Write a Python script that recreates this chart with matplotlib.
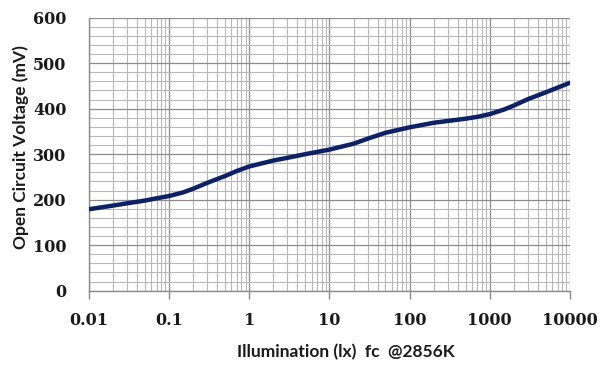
import numpy as np
import matplotlib
matplotlib.use('Agg')
from matplotlib import pyplot as plt
from matplotlib.ticker import LogLocator, FixedLocator, NullFormatter

# 读取自图片的数据点
lux = [0.01, 0.02, 0.03, 0.05, 0.07, 0.1, 0.15, 0.2, 0.3, 0.5, 0.7, 1, 2, 3, 5, 10, 20, 30, 50,
       100, 200, 300, 500, 700, 1000, 1500, 2000, 3000, 5000, 10000]
voc = [179, 187, 192, 198, 203, 208, 216, 224, 237, 252, 263, 273, 286, 292, 300, 310, 323, 334, 347,
       359, 369, 373, 378, 382, 388, 398, 407, 421, 436, 457]
x_ticks = [0.01, 0.1, 1, 10, 100, 1000, 10000]
x_tick_labels = ['0.01', '0.1', '1', '10', '100', '1000', '10000']
y_ticks = [0, 100, 200, 300, 400, 500, 600]

fig = plt.figure(figsize=(6, 3.65), dpi=100)
ax = fig.add_axes([0.148, 0.2036, 0.802, 0.748])

ax.plot(lux, voc, color='#0d2266', linewidth=3.2, solid_capstyle='round',
        solid_joinstyle='round', zorder=3)

ax.set_xscale('log')
ax.set_xlim(0.01, 10000)
ax.set_ylim(0, 600)

ax.xaxis.set_major_locator(FixedLocator(x_ticks))
ax.set_xticklabels(x_tick_labels)
ax.xaxis.set_minor_locator(LogLocator(base=10, subs=np.arange(2, 10), numticks=20))
ax.xaxis.set_minor_formatter(NullFormatter())
ax.set_yticks(y_ticks)
ax.yaxis.set_minor_locator(FixedLocator(np.arange(0, 601, 20)))

ax.grid(which='major', color='#8c8c8c', linewidth=0.9)
ax.grid(which='minor', color='#b8b8b8', linewidth=0.8)
ax.set_axisbelow(True)

for s in ['top', 'right']:
    ax.spines[s].set_visible(False)
for s in ['left', 'bottom']:
    ax.spines[s].set_color('#8c8c8c')
    ax.spines[s].set_linewidth(1.0)

ax.tick_params(axis='x', which='major', length=6, width=1.0, color='#8c8c8c', pad=9)
ax.tick_params(axis='x', which='minor', length=0)
ax.tick_params(axis='y', which='both', length=0, pad=16)

for lab in ax.get_xticklabels() + ax.get_yticklabels():
    lab.set_fontfamily('DejaVu Serif')
    lab.set_fontweight('bold')
    lab.set_fontsize(11.5)
    lab.set_color('#1a1a1a')

fig.text(0.577, 0.036, 'Illumination (lx)  fc  @2856K', ha='center', va='center',
         fontsize=12.5, fontweight='bold', fontfamily='Lato', color='#1a1a1a')
fig.text(0.035, 0.596, 'Open Circuit Voltage (mV)', ha='center', va='center', rotation=90,
         fontsize=12.5, fontweight='bold', fontfamily='Lato', color='#1a1a1a')

fig.savefig('out.png', dpi=100)
